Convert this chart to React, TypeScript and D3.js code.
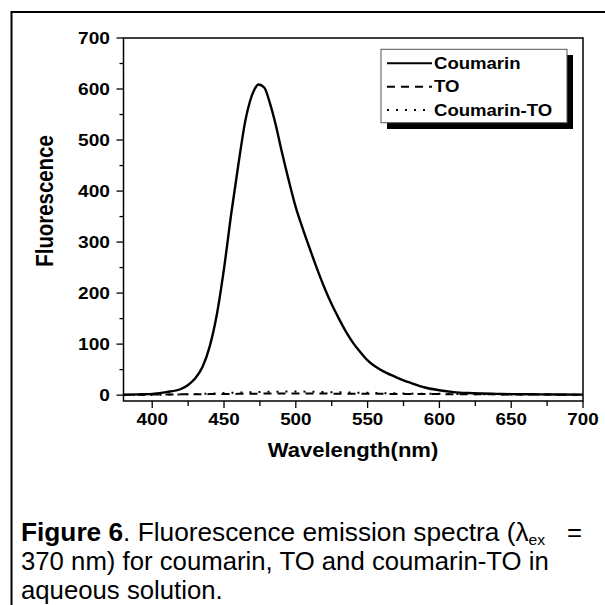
import React from "react";
import * as d3 from "d3";

// ---- data ----
const coumarinWl = [380, 390, 400, 410, 420, 425, 430, 435, 440, 445, 450, 455, 460, 465, 468, 471, 474, 478, 482, 486, 490, 495, 500, 505, 510, 515, 520, 525, 530, 535, 540, 545, 550, 560, 570, 575, 580, 590, 600, 610, 620, 630, 640, 650, 670, 700];
const coumarinVals = [1, 1.5, 2.5, 6, 12, 20, 33, 55, 95, 158, 248, 355, 452, 540, 575, 598, 609, 603, 572, 530, 480, 422, 368, 325, 285, 246, 210, 178, 150, 124, 102, 84, 68, 48, 35, 29, 24, 15, 9.5, 6, 4.2, 3.2, 2.5, 2, 1.5, 1];

const smallWl = [380, 400, 420, 440, 460, 480, 500, 520, 540, 560, 580, 600, 620, 640, 660, 680, 700];
const toVals = [0.5, 1, 1.5, 2, 2.5, 3, 3, 3, 2.5, 2.5, 2, 2, 1.5, 1.5, 1, 1, 0.5];
const coumarinToVals = [0, 0.5, 1.5, 3, 5, 6.5, 7, 6, 5, 4, 3, 2.5, 2, 1.5, 1, 1, 0.5];

const xTicksMajor = [400, 450, 500, 550, 600, 650, 700];
const xTicksMinor = [425, 475, 525, 575, 625, 675];
const yTicksMajor = [0, 100, 200, 300, 400, 500, 600, 700];
const yTicksMinor = [50, 150, 250, 350, 450, 550, 650];

const legendLabels = ["Coumarin", "TO", "Coumarin-TO"];
const seriesDash = ["none", "8,6", "2,7"];

const FONT = "'Liberation Sans', Arial, Helvetica, sans-serif";

const L = 123.5, T = 38, R = 583, B = 401;

function Txt(props: any) {
  const { x, y, sx = 1.15, rotate, anchor = "start", size, weight = "bold", children } = props;
  return (
    <text
      transform={`translate(${x},${y}) scale(${sx},1)${rotate ? ` rotate(${rotate})` : ""}`}
      textAnchor={anchor}
      fontSize={size}
      fontWeight={weight}
      fontFamily={FONT}
      fill="#000"
    >
      {children}
    </text>
  );
}

export default function App() {
  const x = d3.scaleLinear().domain([380, 700]).range([L, R]);
  const y = d3.scaleLinear().domain([-11.5, 700]).range([B, T]);

  const line = d3
    .line<[number, number]>()
    .x((d) => x(d[0]))
    .y((d) => y(d[1]))
    .curve(d3.curveMonotoneX);

  const coumarinPts = coumarinWl.map((w, i) => [w, coumarinVals[i]] as [number, number]);
  const toPts = smallWl.map((w, i) => [w, toVals[i]] as [number, number]);
  const ctoPts = smallWl.map((w, i) => [w, coumarinToVals[i]] as [number, number]);

  const legendRows = [63.3, 86.7, 110];

  return (
    <svg width={605} height={605} style={{ position: "absolute", left: 0, top: 0, background: "#fff" }}>
      <rect x={0} y={0} width={605} height={605} fill="#fff" />
      {/* outer frame */}
      <path d="M11.5,605 V12 H605" fill="none" stroke="#000" strokeWidth={2} />

      {/* series */}
      <path d={line(toPts) || ""} fill="none" stroke="#000" strokeWidth={2} strokeDasharray={seriesDash[1]} />
      <path d={line(ctoPts) || ""} fill="none" stroke="#000" strokeWidth={2} strokeDasharray={seriesDash[2]} />
      <path d={line(coumarinPts) || ""} fill="none" stroke="#000" strokeWidth={2.4} />

      {/* plot frame */}
      <rect x={L} y={T} width={R - L} height={B - T} fill="none" stroke="#000" strokeWidth={1.5} />

      {/* y ticks */}
      {yTicksMajor.map((v) => (
        <g key={"ym" + v}>
          <line x1={L - 7} x2={L} y1={y(v)} y2={y(v)} stroke="#000" strokeWidth={1.3} />
          <Txt x={110} y={y(v) + 5.9} anchor="end" size={16.5} sx={1.16}>
            {String(v)}
          </Txt>
        </g>
      ))}
      {yTicksMinor.map((v) => (
        <line key={"yn" + v} x1={L - 4} x2={L} y1={y(v)} y2={y(v)} stroke="#000" strokeWidth={1.3} />
      ))}

      {/* x ticks */}
      {xTicksMajor.map((v) => (
        <g key={"xm" + v}>
          <line x1={x(v)} x2={x(v)} y1={B} y2={B + 7} stroke="#000" strokeWidth={1.3} />
          <Txt x={x(v)} y={425} anchor="middle" size={16.5} sx={1.14}>
            {String(v)}
          </Txt>
        </g>
      ))}
      {xTicksMinor.map((v) => (
        <line key={"xn" + v} x1={x(v)} x2={x(v)} y1={B} y2={B + 5} stroke="#000" strokeWidth={1.3} />
      ))}

      {/* axis titles */}
      <Txt x={353} y={457} anchor="middle" size={19.5} sx={1.13}>
        Wavelength(nm)
      </Txt>
      <Txt x={53} y={201} anchor="middle" size={20.4} sx={1.15} rotate={-90}>
        Fluorescence
      </Txt>

      {/* legend */}
      <rect x={387} y={55} width={186} height={74} fill="#000" />
      <rect x={381} y={49.3} width={186} height={73.4} fill="#fff" stroke="#555" strokeWidth={1} />
      {legendLabels.map((lab, i) => (
        <g key={lab}>
          <line
            x1={387}
            x2={432}
            y1={legendRows[i]}
            y2={legendRows[i]}
            stroke="#000"
            strokeWidth={2}
            strokeDasharray={seriesDash[i] === "none" ? undefined : seriesDash[i]}
          />
          <Txt x={434} y={legendRows[i] + 5.7} size={16} sx={1.16}>
            {lab}
          </Txt>
        </g>
      ))}

      {/* caption */}
      <text transform="translate(21,541) scale(1.05,1)" fontFamily={FONT} fontSize={25} fill="#000">
        <tspan fontWeight="bold">Figure 6</tspan>
        <tspan>. Fluorescence emission spectra (λ</tspan>
        <tspan fontSize={15} dy={4}>ex</tspan>
      </text>
      <text transform="translate(567,541) scale(1.03,1)" fontFamily={FONT} fontSize={25} fill="#000">
        =
      </text>
      <text transform="translate(21,570) scale(1.03,1)" fontFamily={FONT} fontSize={25} fill="#000">
        370 nm) for coumarin, TO and coumarin-TO in
      </text>
      <text transform="translate(21,599) scale(1.03,1)" fontFamily={FONT} fontSize={25} fill="#000">
        aqueous solution.
      </text>
    </svg>
  );
}
